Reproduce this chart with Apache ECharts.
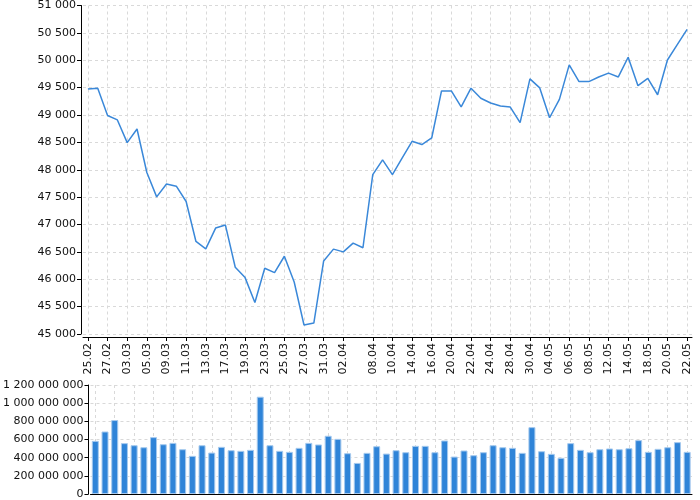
<!DOCTYPE html>
<html>
<head>
<meta charset="utf-8">
<script src="https://cdn.jsdelivr.net/npm/echarts@6/dist/echarts.min.js"></script>
<style>
  html, body { margin: 0; padding: 0; background: #fff; }
  #chart { width: 700px; height: 500px; }
</style>
</head>
<body>
<div id="chart"></div>
<script>
// trading days (Sun-Thu)
var dates = ['25.02', '26.02', '27.02', '02.03', '03.03', '04.03', '05.03', '06.03', '09.03', '10.03',
    '11.03', '12.03', '13.03', '16.03', '17.03', '18.03', '19.03', '20.03', '23.03', '24.03',
    '25.03', '26.03', '27.03', '30.03', '31.03', '01.04', '02.04', '03.04', '07.04', '08.04',
    '09.04', '10.04', '13.04', '14.04', '15.04', '16.04', '17.04', '20.04', '21.04', '22.04',
    '23.04', '24.04', '27.04', '28.04', '29.04', '30.04', '01.05', '04.05', '05.05', '06.05',
    '07.05', '08.05', '11.05', '12.05', '13.05', '14.05', '15.05', '18.05', '19.05', '20.05',
    '21.05', '22.05'];

// dates that get a label / tick / grid line
var shownDates = ['25.02', '27.02', '03.03', '05.03', '09.03', '11.03', '13.03', '17.03', '19.03', '23.03',
    '25.03', '27.03', '31.03', '02.04', '08.04', '10.04', '14.04', '16.04', '20.04', '22.04',
    '24.04', '28.04', '30.04', '04.05', '06.05', '08.05', '12.05', '14.05', '18.05', '20.05', '22.05'];

var closeValues = [49475, 49490, 48990, 48910, 48495, 48745, 47950, 47505, 47740, 47700,
    47420, 46690, 46555, 46935, 46990, 46220, 46030, 45575, 46200, 46120,
    46420, 45950, 45165, 45200, 46335, 46550, 46500, 46660, 46575, 47910,
    48180, 47910, 48215, 48520, 48460, 48580, 49440, 49440, 49150, 49490,
    49305, 49220, 49165, 49145, 48860, 49660, 49495, 48950, 49285, 49915,
    49610, 49610, 49695, 49765, 49695, 50055, 49535, 49670, 49370, 50005,
    50285, 50565];

var volumeValues = [585, 688, 814, 560, 537, 515, 626, 548, 563, 493,
    420, 537, 456, 519, 482, 475, 486, 1071, 537, 475,
    464, 508, 563, 545, 641, 607, 449, 342, 453, 526,
    445, 482, 460, 530, 530, 460, 589, 412, 479, 427,
    460, 537, 515, 508, 453, 736, 471, 442, 398, 560,
    486, 460, 493, 501, 493, 504, 593, 464, 497, 515,
    571, 464].map(function (v) { return v * 1000000; });

function spaced(v) {
    return String(v).replace(/\B(?=(\d{3})+(?!\d))/g, ' ');
}

function showDate(index, value) {
    return shownDates.indexOf(value) >= 0;
}

var chartDom = document.getElementById('chart');
var myChart = echarts.init(chartDom);

var axisFont = { color: '#111', fontSize: 11, fontFamily: 'DejaVu Sans' };
var gridDash = { color: '#d9d9d9', type: [3, 3], width: 1 };

var option = {
    animation: false,
    grid: [
        { left: 83, width: 609, top: 5, height: 329 },
        { left: 83, width: 609, top: 385, height: 109 }
    ],
    xAxis: [
        {
            type: 'category',
            data: dates,
            boundaryGap: true,
            offset: 3,
            axisLine: { lineStyle: { color: '#000', width: 1 } },
            axisTick: { show: true, alignWithLabel: true, interval: showDate, length: 4, lineStyle: { color: '#000' } },
            axisLabel: Object.assign({ rotate: 90, interval: showDate, margin: 6 }, axisFont),
            splitLine: { show: true, alignWithLabel: true, interval: showDate, lineStyle: gridDash }
        },
        {
            type: 'category',
            gridIndex: 1,
            data: dates,
            boundaryGap: true,
            axisLine: { lineStyle: { color: '#000', width: 1 } },
            axisTick: { show: false },
            axisLabel: { show: false },
            splitLine: { show: true, alignWithLabel: true, interval: showDate, lineStyle: gridDash }
        }
    ],
    yAxis: [
        {
            type: 'value',
            min: 45000,
            max: 51000,
            interval: 500,
            offset: 2,
            axisLine: { show: true, lineStyle: { color: '#000', width: 1 } },
            axisTick: { show: true, length: 4, lineStyle: { color: '#000' } },
            axisLabel: Object.assign({ margin: 5, formatter: spaced }, axisFont),
            splitLine: { show: true, lineStyle: gridDash }
        },
        {
            type: 'value',
            gridIndex: 1,
            min: 0,
            max: 1200000000,
            interval: 200000000,
            offset: 2,
            axisLine: { show: true, lineStyle: { color: '#000', width: 1 } },
            axisTick: { show: true, length: 4, lineStyle: { color: '#000' } },
            axisLabel: Object.assign({ margin: 5, formatter: spaced }, axisFont),
            splitLine: { show: true, lineStyle: gridDash }
        }
    ],
    series: [
        {
            name: 'Close',
            type: 'line',
            data: closeValues,
            showSymbol: false,
            lineStyle: { color: '#3a88d9', width: 1.5 },
            itemStyle: { color: '#3a88d9' }
        },
        {
            name: 'Volume',
            type: 'bar',
            xAxisIndex: 1,
            yAxisIndex: 1,
            data: volumeValues,
            barWidth: 7,
            itemStyle: { color: '#2f84d8', borderColor: '#a5c9ee', borderWidth: 1 }
        }
    ]
};
myChart.setOption(option);
</script>
</body>
</html>
